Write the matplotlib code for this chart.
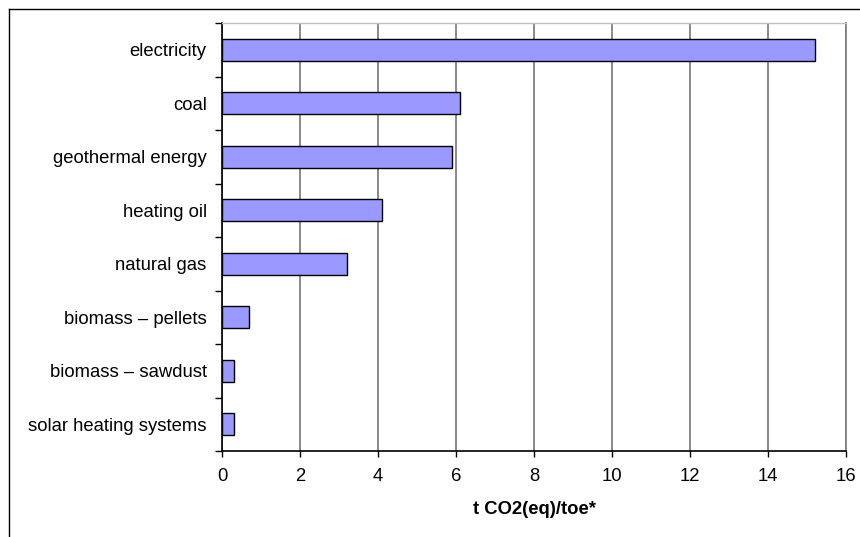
import matplotlib.pyplot as plt
from matplotlib.lines import Line2D
from matplotlib.ticker import FixedLocator

categories = [
    "electricity",
    "coal",
    "geothermal energy",
    "heating oil",
    "natural gas",
    "biomass \u2013 pellets",
    "biomass \u2013 sawdust",
    "solar heating systems",
]
values = [15.2, 6.1, 5.9, 4.1, 3.2, 0.7, 0.3, 0.3]
x_ticks = [0, 2, 4, 6, 8, 10, 12, 14, 16]

plt.rcParams["font.family"] = ["Liberation Sans", "DejaVu Sans"]

W, H = 860, 537
fig = plt.figure(figsize=(W / 100, H / 100), dpi=100)
ax = fig.add_axes([222 / W, 1 - 451 / H, (846 - 222) / W, (451 - 23) / H])

pos = list(range(len(categories)))[::-1]
ax.barh(pos, values, height=0.42, color="#9999ff", edgecolor="black",
        linewidth=1.0, zorder=3)

ax.set_xlim(0, 16)
ax.set_ylim(-0.5, len(categories) - 0.5)
ax.set_xticks(x_ticks)
ax.set_xticklabels([str(v) for v in x_ticks], fontsize=13.3)
ax.set_yticks(pos)
ax.set_yticklabels(categories, fontsize=13.3)
ax.tick_params(axis="y", which="major", length=0, pad=11)
ax.yaxis.set_minor_locator(FixedLocator([p - 0.5 for p in range(len(categories) + 1)]))
ax.tick_params(axis="y", which="minor", length=5, width=1, color="black", direction="out")
ax.tick_params(axis="x", which="major", length=4, width=1, color="black", pad=8)

ax.grid(axis="x", color="#808080", linewidth=1.3, zorder=0)
ax.set_axisbelow(True)
for side in ["left", "bottom"]:
    ax.spines[side].set_color("black")
    ax.spines[side].set_linewidth(1.2)
ax.spines["right"].set_color("#808080")
ax.spines["right"].set_linewidth(1.3)
ax.spines["top"].set_color("#c0c0c0")
ax.spines["top"].set_linewidth(1.0)

ax.set_xlabel("t CO2(eq)/toe*", fontsize=13.3, fontweight="bold", labelpad=12)

# outer chart border (top and left edges visible)
fig.add_artist(Line2D([9 / W, 1], [1 - 9 / H, 1 - 9 / H], color="black", linewidth=1.0))
fig.add_artist(Line2D([9 / W, 9 / W], [0, 1 - 9 / H], color="black", linewidth=1.0))

fig.savefig("out.png", dpi=100)
